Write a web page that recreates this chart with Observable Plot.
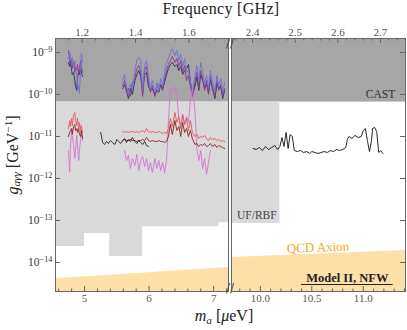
<!DOCTYPE html>
<html><head><meta charset="utf-8">
<script src="https://cdn.jsdelivr.net/npm/d3@7"></script>
<script src="https://cdn.jsdelivr.net/npm/@observablehq/plot@0.6"></script>
<style>
body{margin:0;background:#fff;}
#wrap{position:relative;width:407px;height:330px;overflow:hidden;font-family:"Liberation Serif","Times New Roman",Times,serif;color:#222;}
#wrap svg{position:absolute;top:0;}
.lab{position:absolute;font-size:15px;white-space:nowrap;line-height:1;}
.lab sub{font-size:70%;vertical-align:-0.25em;}
.lab sup{font-size:70%;vertical-align:0.45em;}
</style></head><body>
<div id="wrap"></div>
<script>
// ---------- data ----------
const massToFreq = 0.241799; // GHz per µeV
const castLimit = 6.6e-11;

// UF/RBF excluded region lower boundary (step)
const ufMassLeft = [4.55, 5.0, 5.39, 5.90, 7.08, 7.23];
const ufLowerLeft = [2.4e-14, 4.9e-14, 1.39e-14, 7.1e-14, 8.9e-14, 8.9e-14];
const ufMassRight = [9.72, 10.19];
const ufLowerRight = [8.5e-14, 8.5e-14];

// QCD axion band upper edge
const qcdMassLeft = [4.55, 7.23];
const qcdGLeft = [4.1e-15, 7.6e-15];
const qcdMassRight = [9.72, 11.41];
const qcdGRight = [1.32e-14, 1.93e-14];

// upper (CAST-level) limits
const castMassLeft = [4.75, 4.77, 4.78, 4.80, 4.81, 4.83, 4.85, 4.86, 4.88, 4.89, 4.91, 4.92, 4.94, 4.95, 4.97];
const blueLeft = [7.2e-10, 1.0e-9, 8.48e-10, 5.78e-10, 7.6e-10, 4.64e-10, 6.45e-10, 3.73e-10, 2.99e-10, 1.93e-10, 1.39e-10, 1.06e-10, 3.73e-10, 9.47e-10, 5.78e-10];
const purpleLeft = [1.12e-9, 6.45e-10, 5.18e-10, 7.2e-10, 4.16e-10, 5.78e-10, 3.34e-10, 4.64e-10, 3.73e-10, 5.18e-10, 2.99e-10, 4.16e-10, 6.45e-10, 4.64e-10, 3.34e-10];
const navyLeft = [5.78e-10, 4.64e-10, 6.45e-10, 3.73e-10, 2.99e-10, 3.34e-10, 2.15e-10, 1.55e-10, 1.25e-10, 2.4e-10, 3.73e-10, 2.99e-10, 4.16e-10, 3.34e-10, 2.68e-10];

const castMassMain = [5.59, 5.62, 5.65, 5.68, 5.71, 5.74, 5.78, 5.81, 5.84, 5.87, 5.90, 5.93, 5.96, 5.99, 6.02, 6.05, 6.09, 6.12, 6.15, 6.18, 6.21, 6.24, 6.27, 6.30, 6.33, 6.36, 6.40, 6.43, 6.46, 6.49, 6.52, 6.55, 6.58, 6.61, 6.64, 6.67, 6.71, 6.74, 6.77, 6.80, 6.83, 6.86, 6.89, 6.92, 6.95, 6.98, 7.02, 7.05, 7.08, 7.11, 7.14, 7.17];
const blueMain = [2.15e-10, 2.99e-10, 1.64e-10, 9.47e-11, 1.73e-10, 1.25e-10, 3.73e-10, 6.45e-10, 7.6e-10, 6.45e-10,
  1.25e-10, 4.9e-10, 6.45e-10, 2.83e-10, 1.39e-10, 2.15e-10, 1.12e-10, 1.93e-10, 1.25e-10, 2.4e-10,
  1.64e-10, 3.34e-10, 5.78e-10, 7.2e-10, 1.0e-9, 1.24e-9, 8.48e-10, 1.12e-9, 6.45e-10, 8.96e-10,
  4.64e-10, 7.2e-10, 3.34e-10, 3.73e-10, 2.15e-10, 1.12e-10, 2.83e-10, 4.9e-10, 2.15e-10, 5.78e-10,
  3.73e-10, 1.64e-10, 2.83e-10, 1.39e-10, 3.73e-10, 2.15e-10, 1.25e-10, 2.83e-10, 1.64e-10, 2.4e-10,
  1.12e-10, 1.93e-10];
const purpleMain = [1.64e-10, 2.15e-10, 1.12e-10, 1.39e-10, 8.96e-11, 1.93e-10, 2.4e-10, 4.16e-10, 4.9e-10, 3.34e-10,
  8.96e-11, 3.73e-10, 4.64e-10, 1.93e-10, 1.12e-10, 1.64e-10, 8.96e-11, 1.39e-10, 1.73e-10, 1.55e-10,
  1.25e-10, 2.4e-10, 3.73e-10, 5.18e-10, 6.45e-10, 8.03e-10, 5.78e-10, 7.2e-10, 4.64e-10, 6.45e-10,
  3.34e-10, 4.9e-10, 2.15e-10, 2.83e-10, 1.55e-10, 8.96e-11, 1.93e-10, 3.34e-10, 1.39e-10, 3.73e-10,
  2.4e-10, 1.25e-10, 2.15e-10, 1.0e-10, 2.68e-10, 1.55e-10, 9.47e-11, 2.15e-10, 1.25e-10, 1.73e-10,
  8.96e-11, 1.39e-10];
const navyMain = [1.39e-10, 1.73e-10, 1.25e-10, 8.03e-11, 1.39e-10, 1.0e-10, 2.15e-10, 2.99e-10, 3.73e-10, 2.68e-10,
  1.12e-10, 2.99e-10, 3.34e-10, 1.55e-10, 1.25e-10, 1.39e-10, 1.0e-10, 1.25e-10, 1.12e-10, 1.73e-10,
  1.39e-10, 1.93e-10, 2.99e-10, 4.16e-10, 5.18e-10, 5.78e-10, 4.64e-10, 5.18e-10, 3.73e-10, 4.64e-10,
  2.99e-10, 3.73e-10, 4.16e-10, 5.18e-10, 1.93e-10, 1.0e-10, 1.55e-10, 2.68e-10, 1.25e-10, 2.99e-10,
  2.15e-10, 1.39e-10, 1.73e-10, 1.12e-10, 2.15e-10, 1.39e-10, 8.03e-11, 1.73e-10, 1.39e-10, 1.55e-10,
  8.03e-11, 1.25e-10];

// lower limits, left cluster (same masses as castMassLeft)
const pinkLeft = [4.64e-12, 1.47e-12, 4.64e-12, 1.55e-11, 1.06e-11, 6.1e-12, 2.99e-12, 4.64e-12, 1.06e-11, 6.1e-12, 2.68e-12, 4.64e-12, 8.96e-12, 1.39e-11, 8.03e-12];
const redLeft = [1.55e-11, 2.4e-11, 1.73e-11, 2.68e-11, 1.83e-11, 3.16e-11, 3.73e-11, 2.4e-11, 1.83e-11, 2.68e-11, 1.55e-11, 2.15e-11, 1.39e-11, 1.83e-11, 1.25e-11];
const darkRedLeft = [1.0e-11, 1.25e-11, 1.39e-11, 1.55e-11, 1.12e-11, 1.73e-11, 1.93e-11, 1.39e-11, 1.55e-11, 1.25e-11, 1.55e-11, 1.12e-11, 1.0e-11, 1.39e-11, 8.96e-12];

// lower limits, main cluster (same masses as castMassMain)
const redMain = [1.31e-11, 1.25e-11, 1.31e-11, 1.25e-11, 1.31e-11, 1.31e-11, 1.25e-11, 1.31e-11, 1.25e-11, 1.31e-11,
  1.39e-11, 1.25e-11, 1.55e-11, 1.31e-11, 1.25e-11, 1.31e-11, 1.25e-11, 1.25e-11, 1.31e-11, 1.25e-11,
  1.18e-11, 1.25e-11, 1.18e-11, 1.55e-11, 2.68e-11, 1.73e-11, 3.73e-11, 2.15e-11, 2.99e-11, 1.55e-11,
  3.34e-11, 1.93e-11, 2.68e-11, 1.39e-11, 2.4e-11, 1.25e-11, 1.0e-11, 1.12e-11, 8.96e-12, 1.0e-11,
  9.47e-12, 1.06e-11, 8.96e-12, 8.03e-12, 9.47e-12, 8.48e-12, 8.96e-12, 8.03e-12, 8.48e-12, 7.6e-12,
  8.03e-12, 7.6e-12];
const darkRedMain = [8.03e-12, 8.48e-12, 8.03e-12, 8.03e-12, 8.48e-12, 8.03e-12, 8.03e-12, 7.6e-12, 8.03e-12, 8.03e-12,
  8.48e-12, 8.03e-12, 9.47e-12, 8.03e-12, 7.6e-12, 8.03e-12, 7.6e-12, 7.6e-12, 8.03e-12, 7.6e-12,
  7.6e-12, 7.2e-12, 7.6e-12, 1.0e-11, 1.93e-11, 1.12e-11, 2.4e-11, 1.39e-11, 1.73e-11, 1.0e-11,
  2.15e-11, 1.25e-11, 1.55e-11, 1.0e-11, 1.39e-11, 8.96e-12, 6.45e-12, 6.81e-12, 5.78e-12, 6.45e-12,
  6.1e-12, 6.81e-12, 5.78e-12, 6.1e-12, 6.81e-12, 5.78e-12, 6.45e-12, 5.47e-12, 6.1e-12, 5.78e-12,
  5.47e-12, 5.18e-12];
const pinkMassMain = [5.62, 5.65, 5.68, 5.71, 5.74, 5.78, 5.81, 5.84, 5.87, 5.90, 5.93, 5.96, 5.99, 6.02, 6.05, 6.09, 6.12, 6.15, 6.18, 6.21, 6.24, 6.27, 6.30, 6.33, 6.36, 6.40, 6.43, 6.46, 6.49, 6.52, 6.55, 6.58, 6.61, 6.64, 6.67, 6.71, 6.74, 6.77, 6.80, 6.83, 6.86, 6.89, 6.92, 6.95];
const pinkMain = [4.64e-12, 2.68e-12, 3.53e-12, 1.73e-12, 2.99e-12, 2.04e-12, 3.73e-12, 1.55e-12, 2.68e-12, 3.34e-12,
  1.93e-12, 2.99e-12, 1.55e-12, 2.4e-12, 1.39e-12, 2.99e-12, 1.73e-12, 2.68e-12, 1.55e-12, 2.4e-12,
  1.39e-12, 2.68e-12, 2.4e-11, 1.39e-10, 1.12e-10, 1.55e-10, 9.47e-11, 2.68e-11, 1.73e-11, 3.34e-11,
  1.93e-11, 2.99e-11, 2.15e-11, 7.2e-11, 1.39e-10, 4.16e-11, 5.18e-12, 2.68e-12, 4.64e-12, 1.73e-12,
  2.99e-12, 1.25e-12, 2.4e-12, 4.64e-12];
const blackMassLeft = [5.25, 5.28, 5.31, 5.34, 5.37, 5.40, 5.43, 5.47, 5.50, 5.53, 5.56, 5.59, 5.62, 5.65, 5.68, 5.71, 5.74, 5.78, 5.81, 5.84, 5.87, 5.90, 5.93, 5.96, 5.99];
const blackLeft = [1.25e-11, 7.2e-12, 6.45e-12, 7.6e-12, 6.81e-12, 8.03e-12, 7.2e-12, 6.45e-12, 8.48e-12, 7.6e-12, 6.81e-12, 8.03e-12, 8.96e-12, 7.2e-12, 8.48e-12, 7.6e-12, 9.47e-12, 7.6e-12, 6.81e-12, 8.03e-12, 7.2e-12, 6.45e-12, 7.6e-12, 6.1e-12, 5.78e-12];

// right panel black limit
const blackMassRight = [9.93, 9.96, 9.99, 10.02, 10.05, 10.08, 10.11, 10.14, 10.17, 10.19,
  10.21, 10.23, 10.25, 10.27, 10.29, 10.31, 10.33, 10.36, 10.39, 10.42,
  10.45, 10.48, 10.50, 10.53, 10.56, 10.59, 10.62, 10.65, 10.68, 10.71,
  10.74, 10.77, 10.80, 10.83, 10.845, 10.86, 10.89, 10.92, 10.95, 10.98,
  11.00, 11.02, 11.04, 11.06, 11.08, 11.09, 11.11, 11.13, 11.15, 11.17, 11.19];
const blackRight = [5.18e-12, 4.9e-12, 5.47e-12, 4.64e-12, 5.78e-12, 4.9e-12, 5.47e-12, 6.1e-12, 4.9e-12, 5.78e-12,
  9.47e-12, 5.78e-12, 1.25e-11, 5.18e-12, 1.12e-11, 1.0e-11, 4.64e-12, 4.39e-12, 4.64e-12, 4.16e-12,
  4.39e-12, 3.94e-12, 4.39e-12, 4.16e-12, 3.94e-12, 4.16e-12, 4.39e-12, 4.16e-12, 4.64e-12, 4.39e-12,
  4.9e-12, 4.64e-12, 4.9e-12, 5.47e-12, 8.48e-12, 1.0e-11, 8.96e-12, 1.06e-11, 9.47e-12, 1.0e-11,
  1.39e-11, 1.55e-11, 8.03e-12, 4.39e-12, 8.03e-12, 1.55e-11, 1.64e-11, 1.31e-11, 4.16e-12, 4.64e-12,
  3.94e-12];

// ticks
const yTicks = [1e-9, 1e-10, 1e-11, 1e-12, 1e-13, 1e-14];
const massTicksLeft = [5, 6, 7];
const massMinorLeft = [4.6, 4.8, 5.2, 5.4, 5.6, 5.8, 6.2, 6.4, 6.6, 6.8, 7.2];
const massTicksRight = [10.0, 10.5, 11.0];
const massMinorRight = [9.8, 9.9, 10.1, 10.2, 10.3, 10.4, 10.6, 10.7, 10.8, 10.9, 11.1, 11.2, 11.3, 11.4];
const freqTicksLeft = [1.2, 1.4, 1.6];
const freqMinorLeft = [1.15, 1.25, 1.3, 1.35, 1.45, 1.5, 1.55, 1.65, 1.7, 1.75];
const freqTicksRight = [2.4, 2.5, 2.6, 2.7];
const freqMinorRight = [2.36, 2.38, 2.42, 2.44, 2.46, 2.48, 2.52, 2.54, 2.56, 2.58, 2.62, 2.64, 2.66, 2.68, 2.72, 2.74];

// ---------- styling ----------
const FONT = "'Liberation Serif','Times New Roman',Times,serif";
const yDomain = [2.04e-15, 2.154e-9];
const leftDomain = [4.55, 7.23];
const rightDomain = [9.72, 11.41];
const H = 330, MT = 38, MB = 39, innerH = H - MT - MB;
const WL = 233, MLL = 55, MRL = 5, innerWL = WL - MLL - MRL;
const WR = 177, MLR = 1, MRR = 2, innerWR = WR - MLR - MRR;
const C = {cast: "#a6a6a6", uf: "#d9d9d9", qcd: "#fde0a8", frame: "#666",
  blue: "#6e6fd9", purple: "#8c3a8c", navy: "#2a2a68", red: "#e5575c", darkRed: "#8b2020", pink: "#d870d3", black: "#111"};

const zip = (ms, gs) => ms.map((m, i) => ({m, g: gs[i]}));
const line = (ms, gs, color, w = 0.9) => Plot.line(zip(ms, gs), {x: "m", y: "g", stroke: color, strokeWidth: w, clip: true});
const fmtExp = d => "10^" + Math.round(Math.log10(d));

const left = Plot.plot({
  width: WL, height: H, marginLeft: MLL, marginRight: MRL, marginTop: MT, marginBottom: MB,
  style: {background: "none", fontFamily: FONT, overflow: "visible"},
  x: {domain: leftDomain},
  y: {type: "log", domain: yDomain},
  marks: [
    Plot.rect([castLimit], {x1: leftDomain[0], x2: leftDomain[1], y1: d => d, y2: yDomain[1], fill: C.cast}),
    Plot.areaY(zip(ufMassLeft, ufLowerLeft), {x: "m", y1: "g", y2: castLimit, curve: "step-after", fill: C.uf}),
    Plot.areaY(zip(qcdMassLeft, qcdGLeft), {x: "m", y1: yDomain[0], y2: "g", fill: C.qcd}),
    line(castMassLeft, navyLeft, C.navy),
    line(castMassLeft, purpleLeft, C.purple),
    line(castMassLeft, blueLeft, C.blue),
    line(castMassMain, navyMain, C.navy),
    line(castMassMain, purpleMain, C.purple),
    line(castMassMain, blueMain, C.blue),
    line(castMassLeft, pinkLeft, C.pink),
    line(pinkMassMain, pinkMain, C.pink),
    line(castMassLeft, darkRedLeft, C.darkRed),
    line(castMassMain, darkRedMain, C.darkRed),
    line(castMassLeft, redLeft, C.red),
    line(castMassMain, redMain, C.red),
    line(blackMassLeft, blackLeft, C.black, 0.8),
    Plot.frame({stroke: C.frame}),
    Plot.tickX(massTicksLeft, {x: d => d, insetTop: innerH - 5, stroke: C.frame}),
    Plot.tickX(massMinorLeft, {x: d => d, insetTop: innerH - 2.5, stroke: C.frame}),
    Plot.tickX(freqTicksLeft, {x: f => f / massToFreq, insetBottom: innerH - 5, stroke: C.frame}),
    Plot.tickX(freqMinorLeft, {x: f => f / massToFreq, insetBottom: innerH - 2.5, stroke: C.frame}),
    Plot.tickY(yTicks, {y: d => d, insetRight: innerWL - 5, stroke: C.frame}),
    Plot.axisX({ticks: massTicksLeft, tickSize: 0, tickPadding: 3, tickFormat: d => String(d), fontSize: 11, fill: "#555", label: null}),
    Plot.text(freqTicksLeft, {x: f => f / massToFreq, frameAnchor: "top", lineAnchor: "bottom", dy: -3, text: f => f.toFixed(1), fontSize: 11, fill: "#555"}),
    Plot.axisY({ticks: yTicks, tickSize: 0, tickPadding: 3, tickFormat: fmtExp, fontSize: 11.5, fill: "#333", label: null}),
    Plot.text(["//"], {frameAnchor: "top-right", dx: 1.5, dy: 0, text: d => d, fontSize: 12, fill: "#444", fontFamily: "DejaVu Sans", textAnchor: "middle"}),
    Plot.text(["//"], {frameAnchor: "bottom-right", dx: 1.5, dy: 0, text: d => d, fontSize: 12, fill: "#444", fontFamily: "DejaVu Sans", textAnchor: "middle"})
  ]
});

const right = Plot.plot({
  width: WR, height: H, marginLeft: MLR, marginRight: MRR, marginTop: MT, marginBottom: MB,
  style: {background: "none", fontFamily: FONT, overflow: "visible"},
  x: {domain: rightDomain},
  y: {type: "log", domain: yDomain, axis: null},
  marks: [
    Plot.rect([castLimit], {x1: rightDomain[0], x2: rightDomain[1], y1: d => d, y2: yDomain[1], fill: C.cast}),
    Plot.areaY(zip(ufMassRight, ufLowerRight), {x: "m", y1: "g", y2: castLimit, curve: "step-after", fill: C.uf}),
    Plot.areaY(zip(qcdMassRight, qcdGRight), {x: "m", y1: yDomain[0], y2: "g", fill: C.qcd}),
    line(blackMassRight, blackRight, C.black, 0.9),
    Plot.text(["CAST"], {x: 11.31, y: 1.03e-10, text: d => d, textAnchor: "end", fontSize: 11.5, fill: "#333"}),
    Plot.text(["UF/RBF"], {x: 9.966, y: 1.32e-13, text: d => d, fontSize: 11.5, fill: "#444"}),
    Plot.text(["QCD Axion"], {x: 10.56, y: 2.28e-14, text: d => d, fontSize: 13, fill: "#f5a623", rotate: -2, letterSpacing: "0.6px"}),
    Plot.text(["Model II, NFW"], {x: 10.845, y: 4.27e-15, text: d => d, fontSize: 12.5, fontWeight: "bold", fill: "#222"}),
    Plot.ruleY([2.99e-15], {x1: 10.40, x2: 11.29, stroke: "#222", strokeWidth: 1}),
    Plot.frame({stroke: C.frame}),
    Plot.tickX(massTicksRight, {x: d => d, insetTop: innerH - 5, stroke: C.frame}),
    Plot.tickX(massMinorRight, {x: d => d, insetTop: innerH - 2.5, stroke: C.frame}),
    Plot.tickX(freqTicksRight, {x: f => f / massToFreq, insetBottom: innerH - 5, stroke: C.frame}),
    Plot.tickX(freqMinorRight, {x: f => f / massToFreq, insetBottom: innerH - 2.5, stroke: C.frame, clip: true}),
    Plot.tickY(yTicks, {y: d => d, insetLeft: innerWR - 5, stroke: C.frame}),
    Plot.axisX({ticks: massTicksRight, tickSize: 0, tickPadding: 3, tickFormat: d => d.toFixed(1), fontSize: 11, fill: "#555", label: null}),
    Plot.text(freqTicksRight, {x: f => f / massToFreq, frameAnchor: "top", lineAnchor: "bottom", dy: -3, text: f => f.toFixed(1), fontSize: 11, fill: "#555"})
  ]
});

// superscript exponents on y tick labels
d3.select(left).selectAll('g[aria-label="y-axis tick label"] text').each(function () {
  const [b, e] = this.textContent.split("^");
  const t = d3.select(this);
  t.text(null);
  t.append("tspan").text(b);
  t.append("tspan").attr("dy", "-0.55em").attr("font-size", "72%").text(e.replace("-", "\u2212"));
});

const wrap = document.getElementById("wrap");
right.style.left = "230px";
left.style.left = "0px";
wrap.appendChild(right);
wrap.appendChild(left);

function addLabel(html, css) {
  const d = document.createElement("div");
  d.className = "lab";
  d.innerHTML = html;
  Object.assign(d.style, css);
  wrap.appendChild(d);
}
addLabel("Frequency [GHz]", {left: "221px", top: "9px", transform: "translate(-50%,-50%)", fontSize: "16px", letterSpacing: "0.3px"});
addLabel("<i>m</i><sub><i>a</i></sub> [<i>\u03bc</i>eV]", {left: "224px", top: "317px", transform: "translate(-50%,-50%)", fontSize: "16px"});
addLabel("<i>g</i><sub><i>a\u03b3\u03b3</i></sub> [GeV<sup>\u22121</sup>]", {left: "13px", top: "155px", transform: "translate(-50%,-50%) rotate(-90deg)", fontSize: "16px"});
</script>
</body></html>
